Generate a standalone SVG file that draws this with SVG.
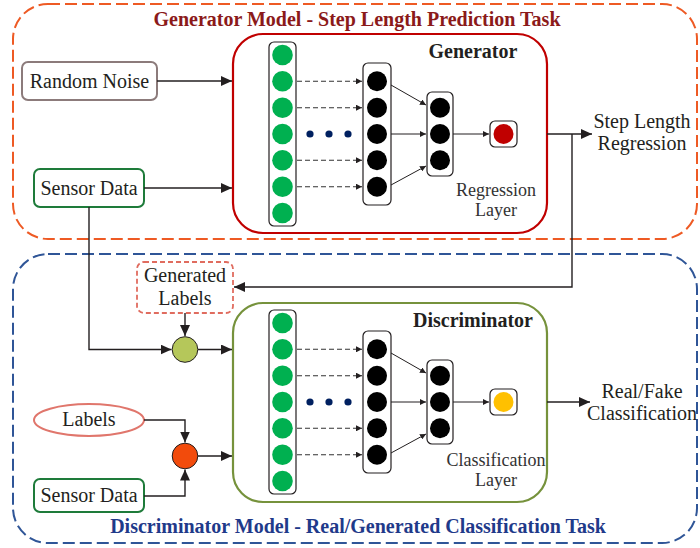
<svg xmlns="http://www.w3.org/2000/svg" width="700" height="548" viewBox="0 0 700 548" font-family="'Liberation Serif', 'Times New Roman', serif">
<style>
text{font-family:'Liberation Serif','Times New Roman',serif;fill:#231f20;}
.lbl{font-size:20px;text-anchor:middle;}
.sm{font-size:18px;text-anchor:middle;fill:#333;}
.ttl{font-size:20px;font-weight:bold;text-anchor:middle;}
.col{fill:#fff;stroke:#231f20;stroke-width:1.2;}
.gc{fill:#00B050;}
.bc{fill:#000;}
.ln{fill:none;stroke:#231f20;stroke-width:1.4;}
.dl{fill:none;stroke:#333;stroke-width:1.1;stroke-dasharray:5 3;}
.tn{fill:none;stroke:#231f20;stroke-width:1;}
</style>
<defs>
<marker id="ah" markerUnits="userSpaceOnUse" markerWidth="12" markerHeight="10" refX="11" refY="5" orient="auto">
<path d="M0,0 L11,5 L0,10 Z" fill="#231f20"/>
</marker>
<marker id="as" markerUnits="userSpaceOnUse" markerWidth="7" markerHeight="6" refX="6" refY="3" orient="auto">
<path d="M0,0 L6,3 L0,6 Z" fill="#231f20"/>
</marker>
<g id="net">
<rect class="col" x="269" y="42" width="27" height="184" rx="5"/>
<circle class="gc" cx="282.5" cy="55" r="10.3"/>
<circle class="gc" cx="282.5" cy="81.3" r="10.3"/>
<circle class="gc" cx="282.5" cy="107.7" r="10.3"/>
<circle class="gc" cx="282.5" cy="134" r="10.3"/>
<circle class="gc" cx="282.5" cy="160.3" r="10.3"/>
<circle class="gc" cx="282.5" cy="186.7" r="10.3"/>
<circle class="gc" cx="282.5" cy="213" r="10.3"/>
<path class="dl" d="M297,81.3 H362" marker-end="url(#as)"/>
<path class="dl" d="M297,107.7 H362" marker-end="url(#as)"/>
<path class="dl" d="M297,160.3 H362" marker-end="url(#as)"/>
<path class="dl" d="M297,186.7 H362" marker-end="url(#as)"/>
<circle cx="310" cy="134" r="3.6" fill="#002060"/>
<circle cx="329" cy="134" r="3.6" fill="#002060"/>
<circle cx="348" cy="134" r="3.6" fill="#002060"/>
<rect class="col" x="363" y="63" width="28" height="142" rx="5"/>
<circle class="bc" cx="377" cy="81.3" r="10"/>
<circle class="bc" cx="377" cy="107.7" r="10"/>
<circle class="bc" cx="377" cy="134" r="10"/>
<circle class="bc" cx="377" cy="160.3" r="10"/>
<circle class="bc" cx="377" cy="186.7" r="10"/>
<path class="tn" d="M391,85 L426,105" marker-end="url(#as)"/>
<path class="tn" d="M391,134 L426,134" marker-end="url(#as)"/>
<path class="tn" d="M391,185 L426,166" marker-end="url(#as)"/>
<rect class="col" x="427" y="92" width="26" height="84" rx="5"/>
<circle class="bc" cx="440" cy="107.7" r="10"/>
<circle class="bc" cx="440" cy="134" r="10"/>
<circle class="bc" cx="440" cy="160.3" r="10"/>
<path class="tn" d="M453,134 L489,134" marker-end="url(#as)"/>
<rect class="col" x="490" y="121" width="27" height="26" rx="5"/>
</g>
</defs>

<g id="generator-model-frame">
<rect x="13" y="4" width="684" height="235" rx="35" fill="none" stroke="#EE5A24" stroke-width="2" stroke-dasharray="12 5"/>
<text class="ttl" x="357" y="26" style="fill:#8B1A1A">Generator Model - Step Length Prediction Task</text>
</g>

<g id="discriminator-model-frame">
<rect x="13" y="254" width="684" height="289" rx="35" fill="none" stroke="#2F5597" stroke-width="2" stroke-dasharray="12 5"/>
<text class="ttl" x="358" y="533" style="fill:#1F3A8A">Discriminator Model - Real/Generated Classification Task</text>
</g>

<g id="random-noise">
<rect x="22" y="62" width="135" height="38" rx="6" fill="#fff" stroke="#8C7B7B" stroke-width="2"/>
<text class="lbl" x="89.5" y="88">Random Noise</text>
</g>

<g id="sensor-data-top">
<rect x="34" y="169" width="110" height="38" rx="6" fill="#fff" stroke="#1E7B3A" stroke-width="2"/>
<text class="lbl" x="89" y="195">Sensor Data</text>
</g>

<g id="generator">
<rect x="233" y="34" width="314" height="199" rx="30" fill="#fff" stroke="#C00000" stroke-width="2.2"/>
<text class="ttl" x="473" y="58">Generator</text>
<use href="#net"/>
<circle cx="503.5" cy="134" r="10" fill="#C00000"/>
<text class="sm" x="496" y="196">Regression</text>
<text class="sm" x="496" y="216">Layer</text>
</g>

<g id="step-length-regression">
<text class="lbl" x="642" y="128">Step Length</text>
<text class="lbl" x="642" y="150">Regression</text>
</g>

<g id="generated-labels">
<rect x="137" y="262" width="96" height="51" rx="7" fill="#fff" stroke="#E06C5F" stroke-width="1.8" stroke-dasharray="5 3"/>
<text class="lbl" x="185" y="282">Generated</text>
<text class="lbl" x="185" y="305">Labels</text>
</g>

<g id="concat-generated">
<circle cx="185" cy="349.5" r="12.8" fill="#B5C75A" stroke="#231f20" stroke-width="1"/>
</g>

<g id="labels">
<ellipse cx="89" cy="420" rx="55" ry="16" fill="#fff" stroke="#E0766C" stroke-width="2"/>
<text class="lbl" x="89" y="426">Labels</text>
</g>

<g id="concat-real">
<circle cx="185" cy="456" r="12.8" fill="#F24B0C" stroke="#231f20" stroke-width="1"/>
</g>

<g id="sensor-data-bottom">
<rect x="34" y="479" width="110" height="33" rx="6" fill="#fff" stroke="#1E7B3A" stroke-width="2"/>
<text class="lbl" x="89" y="502">Sensor Data</text>
</g>

<g id="discriminator">
<rect x="233" y="303" width="314" height="199" rx="30" fill="#fff" stroke="#76923C" stroke-width="2.2"/>
<text class="ttl" x="473" y="327">Discriminator</text>
<use href="#net" transform="translate(0,268)"/>
<circle cx="503.5" cy="402" r="10" fill="#FFC000"/>
<text class="sm" x="496" y="466">Classification</text>
<text class="sm" x="496" y="486">Layer</text>
</g>

<g id="real-fake-classification">
<text class="lbl" x="642" y="398">Real/Fake</text>
<text class="lbl" x="642" y="420">Classification</text>
</g>

<g id="connectors">
<path class="ln" d="M157,81 H232" marker-end="url(#ah)"/>
<path class="ln" d="M144,188 H232" marker-end="url(#ah)"/>
<path class="ln" d="M547,134 H592" marker-end="url(#ah)"/>
<path class="ln" d="M572,134 V287 H234" marker-end="url(#ah)"/>
<path class="ln" d="M89,207 V349.5 H171.5" marker-end="url(#ah)"/>
<path class="ln" d="M185,313 V336" marker-end="url(#ah)"/>
<path class="ln" d="M198,349.5 H232" marker-end="url(#ah)"/>
<path class="ln" d="M144,420 H185 V442.5" marker-end="url(#ah)"/>
<path class="ln" d="M144,496 H185 V469.5" marker-end="url(#ah)"/>
<path class="ln" d="M198,456 H232" marker-end="url(#ah)"/>
<path class="ln" d="M547,402 H590" marker-end="url(#ah)"/>
</g>
</svg>
